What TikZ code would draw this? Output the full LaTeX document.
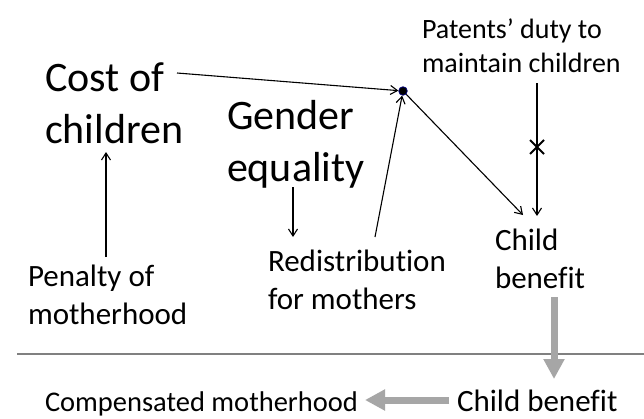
\documentclass[tikz,border=0pt]{standalone}
\usepackage{fontspec}
\setmainfont{Carlito}[Ligatures=NoCommon]
\usetikzlibrary{arrows.meta}
\tikzset{
  lbl/.style={anchor=base west, inner sep=0pt, outer sep=0pt, align=left, text=black},
  big/.style={lbl, font=\fontsize{42}{52}\selectfont},
  mid/.style={lbl, font=\fontsize{31}{38}\selectfont},
  sml/.style={lbl, font=\fontsize{28}{34}\selectfont},
  arr/.style={draw=black, line width=1.1pt, -{Straight Barb[length=7pt,width=9pt]}},
  grayarr/.style={draw=black!35, line width=7pt, -{Triangle[length=20pt,width=20pt]}},
}
\begin{document}
\begin{tikzpicture}[x=1pt, y=-1pt]
\useasboundingbox[fill=white] (0,0) rectangle (644,418);

% text nodes (anchor at the baseline of the last line)
\node[big] (cost) at (45,143) {Cost of\\children};
\node[big] (gender) at (227,181) {Gender\\equality};
\node[sml] (duty) at (422,72) {Patents’ duty to\\maintain children};
\node[mid] (penalty) at (28,324) {Penalty of\\motherhood};
\node[mid] (redis) at (268,309) {Redistribution\\for mothers};
\node[mid] (cb) at (495,288) {Child\\benefit};
\node[mid] (cb2) at (457,411) {Child benefit};
\node[lbl, font=\fontsize{28.5}{34}\selectfont] (comp) at (45,411) {Compensated motherhood};

% hub dot
\node[circle, fill=black, draw=blue!45!black, line width=0.8pt, inner sep=0pt, minimum size=8.5pt] (dot) at (403,91) {};

% connector end points
\coordinate (costout) at (177,73);
\coordinate (penout) at (106,257);
\coordinate (penin) at (106,152);
\coordinate (genout) at (293,187);
\coordinate (genin) at (293,237);
\coordinate (redout) at (375,237);
\coordinate (cbin1) at (523,215);
\coordinate (dutyout) at (537,83);
\coordinate (cbin2) at (537,216);
\coordinate (cbout) at (554,297);
\coordinate (cb2in) at (554,379);
\coordinate (cb2out) at (449,400);
\coordinate (compin) at (365,400);
\coordinate (lineL) at (17,354);
\coordinate (lineR) at (644,354);

% black connectors
\draw[arr] (costout) -- (dot);
\draw[arr] (penout) -- (penin);
\draw[arr] (genout) -- (genin);
\draw[arr] (redout) -- (dot);
\draw[arr] (dot) -- (cbin1);
\draw[arr] (dutyout) -- (cbin2);

% cross on the parents' duty line
\coordinate (xmark) at (537,147);
\draw[line width=2pt] ([shift={(-7,-7)}]xmark) -- ([shift={(7,7)}]xmark)
                      ([shift={(-7,7)}]xmark) -- ([shift={(7,-7)}]xmark);

% separator line
\draw[draw=black!50, line width=1.5pt] (lineL) -- (lineR);

% gray arrows
\draw[grayarr] (cbout) -- (cb2in);
\draw[grayarr] (cb2out) -- (compin);
\end{tikzpicture}
\end{document}
